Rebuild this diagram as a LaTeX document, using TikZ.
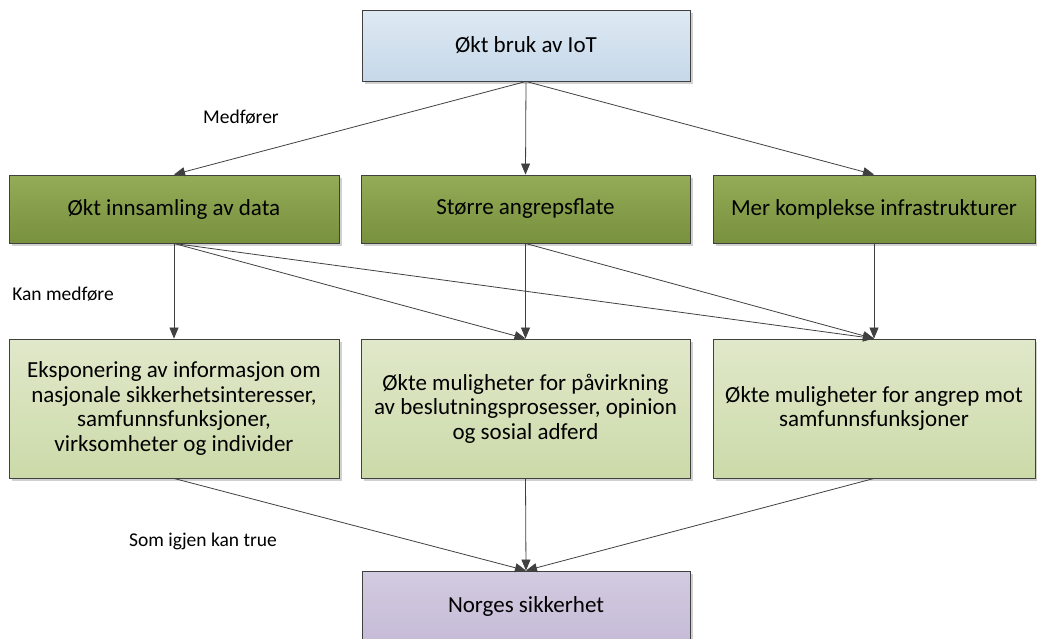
\documentclass[tikz,border=0pt]{standalone}
\usepackage{fontspec}
\setmainfont{Carlito}
\usetikzlibrary{arrows.meta,shadows}
\definecolor{edgec}{HTML}{404040}
\definecolor{blueT}{HTML}{DEE9F3}
\definecolor{blueB}{HTML}{C6D8E9}
\definecolor{oliveT}{HTML}{94AB57}
\definecolor{oliveB}{HTML}{78913E}
\definecolor{paleT}{HTML}{E0E8CA}
\definecolor{paleB}{HTML}{CCDAA9}
\definecolor{purpT}{HTML}{D3CBE0}
\definecolor{purpB}{HTML}{C2B7D5}
\tikzset{
  box/.style={rectangle, draw=edgec, line width=0.9pt, align=center, inner sep=2pt,
    font=\fontsize{23}{24.5}\selectfont, text=black,
    drop shadow={shadow xshift=3pt, shadow yshift=-3pt, fill=black!18, opacity=1}},
  bluebox/.style={box, top color=blueT, bottom color=blueB},
  olivebox/.style={box, top color=oliveT, bottom color=oliveB},
  palebox/.style={box, top color=paleT, bottom color=paleB},
  purpbox/.style={box, top color=purpT, bottom color=purpB},
  conn/.style={draw=edgec, line width=0.8pt, -{Triangle[length=11pt,width=9pt]}},
  lbl/.style={font=\fontsize{19.5}{22}\selectfont, text=black}
}
\begin{document}
\begin{tikzpicture}[x=1pt,y=-1pt]
\useasboundingbox (0,0) rectangle (1037,638);
\node[bluebox, minimum width=328pt, minimum height=71pt] (iot) at (526,45.5) {Økt bruk av IoT};
\node[olivebox, minimum width=330pt, minimum height=68pt] (data) at (174,209) {Økt innsamling av data};
\node[olivebox, minimum width=329pt, minimum height=68pt] (flate) at (525.5,209) {Større angrepsflate};
\node[olivebox, minimum width=322pt, minimum height=68pt] (infra) at (874,209) {Mer komplekse infrastrukturer};
\node[palebox, minimum width=330pt, minimum height=139pt] (eksp) at (174,408.5) {Eksponering av informasjon om\\nasjonale sikkerhetsinteresser,\\samfunnsfunksjoner,\\virksomheter og individer};
\node[palebox, minimum width=329pt, minimum height=139pt] (paav) at (525.5,408.5) {Økte muligheter for påvirkning\\av beslutningsprosesser, opinion\\og sosial adferd};
\node[palebox, minimum width=322pt, minimum height=139pt] (angr) at (874,408.5) {Økte muligheter for angrep mot\\samfunnsfunksjoner};
\node[purpbox, minimum width=328pt, minimum height=90pt, text depth=0pt] (norge) at (526,616) {\raisebox{22pt}{Norges sikkerhet}};
\node[lbl] (l1) at (241,117) {Medfører};
\node[lbl] (l2) at (63,294) {Kan medføre};
\node[lbl] (l3) at (203,541) {Som igjen kan true};
\draw[conn] (iot.south) -- (data.north);
\draw[conn] (iot.south) -- (flate.north);
\draw[conn] (iot.south) -- (infra.north);
\draw[conn] (data.south) -- (eksp.north);
\draw[conn] (data.south) -- (paav.north);
\draw[conn] (data.south) -- (angr.north);
\draw[conn] (flate.south) -- (paav.north);
\draw[conn] (flate.south) -- (angr.north);
\draw[conn] (infra.south) -- (angr.north);
\draw[conn] (eksp.south) -- (norge.north);
\draw[conn] (paav.south) -- (norge.north);
\draw[conn] (angr.south) -- (norge.north);
\end{tikzpicture}
\end{document}
